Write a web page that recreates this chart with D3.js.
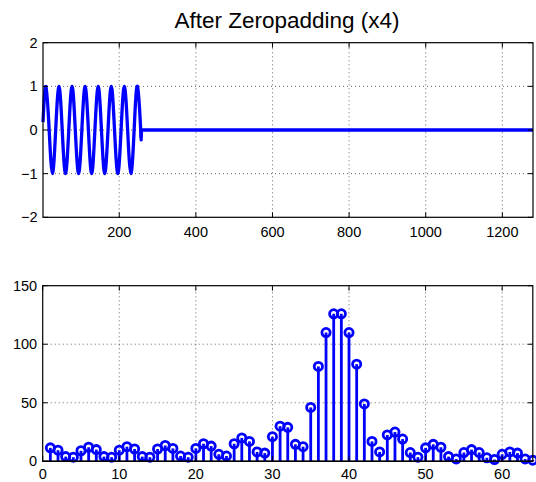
<!DOCTYPE html>
<html>
<head>
<meta charset="utf-8">
<script src="https://cdn.jsdelivr.net/npm/d3@7"></script>
<style>
  html, body { margin: 0; padding: 0; background: #fff; }
  svg { display: block; }
  text { font-family: Helvetica, Arial, "Liberation Sans", sans-serif; fill: #000; }
</style>
</head>
<body>
<svg id="chart" width="536" height="482"></svg>
<script>
// ---------------- DATA ----------------
const titleText = "After Zeropadding (x4)";

const waveSamples = [1, 8.5, 17.1, 25.6, 34.1, 42.7, 51.2, 59.7, 68.3, 76.8, 85.3, 93.9, 102.4, 110.9, 119.5, 128,
  136.5, 145.1, 153.6, 162.1, 170.7, 179.2, 187.7, 196.3, 204.8, 213.3, 221.9, 230.4, 238.9, 247.5, 256, 257];
const waveValues = [0.18, 1, 0, -1, 0, 1, 0, -1, 0, 1, 0, -1, 0, 1, 0, -1,
  0, 1, 0, -1, 0, 1, 0, -1, 0, 1, 0, -1, 0, 1, 0, -0.18];
// zero padded tail
const padSamples = [257, 258, 1280];
const padValues = [-0.18, 0, 0];

const topXTicks = [200, 400, 600, 800, 1000, 1200];
const topYTicks = [-2, -1, 0, 1, 2];

// Bottom: magnitude spectrum, bins 1..64
const binIndex = d3.range(1, 65);
const binMagnitude = [
  11.5, 9.5, 4, 3.5, 9, 12, 10, 4, 3.5, 9.5,
  12.5, 10.5, 4, 3.5, 10.5, 13.5, 11, 4.5, 3.5, 11,
  15, 13, 6, 4.5, 15, 20, 17, 8, 7, 21,
  30, 29, 14.5, 12.5, 46, 81, 110, 126, 126, 110,
  83, 49, 17, 8, 22.5, 25, 19, 7.5, 3.5, 11.5,
  14.5, 12, 4, 2, 7.5, 10, 7.5, 3, 1.5, 6,
  8, 7, 2, 1
];
const botXTicks = [0, 10, 20, 30, 40, 50, 60];
const botYTicks = [0, 50, 100, 150];

// ---------------- DRAW ----------------
const svg = d3.select("#chart");
const blue = "#0000ff";
const tickFont = 14.5;

function fmt(v) { return v < 0 ? "\u2212" + Math.abs(v) : String(v); }

function drawGrid(g, x, y, gridX, gridY) {
  const [x0, x1] = x.range();
  const [y0, y1] = y.range();
  const grid = g.append("g").attr("class", "grid");
  gridX.forEach(t => {
    grid.append("line").attr("x1", x(t)).attr("x2", x(t)).attr("y1", y0).attr("y2", y1)
      .attr("stroke", "#000").attr("stroke-width", 0.8).attr("stroke-dasharray", "1,3").attr("opacity", 0.75);
  });
  gridY.forEach(t => {
    grid.append("line").attr("x1", x0).attr("x2", x1).attr("y1", y(t)).attr("y2", y(t))
      .attr("stroke", "#000").attr("stroke-width", 0.8).attr("stroke-dasharray", "1,3").attr("opacity", 0.75);
  });
}

function drawFrame(g, x, y, xTicks, yTicks, labelDy) {
  const [x0, x1] = x.range();
  const [y0, y1] = y.range();
  const tl = 5;
  const fr = g.append("g");
  xTicks.forEach(t => {
    fr.append("line").attr("x1", x(t)).attr("x2", x(t)).attr("y1", y0).attr("y2", y0 - tl).attr("stroke", "#000");
    fr.append("line").attr("x1", x(t)).attr("x2", x(t)).attr("y1", y1).attr("y2", y1 + tl).attr("stroke", "#000");
  });
  yTicks.forEach(t => {
    fr.append("line").attr("x1", x0).attr("x2", x0 + tl).attr("y1", y(t)).attr("y2", y(t)).attr("stroke", "#000");
    fr.append("line").attr("x1", x1).attr("x2", x1 - tl).attr("y1", y(t)).attr("y2", y(t)).attr("stroke", "#000");
  });
  fr.append("rect").attr("x", x0).attr("y", y1).attr("width", x1 - x0).attr("height", y0 - y1)
    .attr("fill", "none").attr("stroke", "#000").attr("stroke-width", 1.2);
  xTicks.forEach(t => {
    fr.append("text").attr("x", x(t)).attr("y", y0 + labelDy).attr("text-anchor", "middle")
      .attr("font-size", tickFont).text(fmt(t));
  });
  yTicks.forEach(t => {
    fr.append("text").attr("x", x0 - 5.5).attr("y", y(t) + 5).attr("text-anchor", "end")
      .attr("font-size", tickFont).text(fmt(t));
  });
}

// Title
svg.append("text").attr("x", 287).attr("y", 28.3).attr("text-anchor", "middle")
  .attr("font-size", 22.5).text(titleText);

// ---- Top subplot ----
const xTop = d3.scaleLinear().domain([1, 1280]).range([43, 533]);
const yTop = d3.scaleLinear().domain([-2, 2]).range([217.3, 42.7]);
const gTop = svg.append("g");
drawGrid(gTop, xTop, yTop, topXTicks, [-1, 0, 1]);

const wavePts = waveSamples.map((s, i) => [s, waveValues[i]]);
const padPts = padSamples.map((s, i) => [s, padValues[i]]);
const lineNat = d3.line().x(d => xTop(d[0])).y(d => yTop(d[1])).curve(d3.curveNatural);
const lineLin = d3.line().x(d => xTop(d[0])).y(d => yTop(d[1]));
gTop.append("path").attr("d", lineNat(wavePts)).attr("fill", "none").attr("stroke", blue)
  .attr("stroke-width", 3.3).attr("stroke-linejoin", "round");
gTop.append("path").attr("d", lineLin(padPts)).attr("fill", "none").attr("stroke", blue)
  .attr("stroke-width", 3.3).attr("stroke-linejoin", "round");
drawFrame(gTop, xTop, yTop, topXTicks, topYTicks, 20);

// ---- Bottom subplot ----
const xBot = d3.scaleLinear().domain([0, 64]).range([42.7, 532.8]);
const yBot = d3.scaleLinear().domain([0, 150]).range([461.3, 285.7]);
const gBot = svg.append("g");
drawGrid(gBot, xBot, yBot, botXTicks.filter(t => t > 0), [50, 100]);

const stems = gBot.append("g");
binIndex.forEach((k, i) => {
  stems.append("line").attr("x1", xBot(k)).attr("x2", xBot(k))
    .attr("y1", yBot(0)).attr("y2", yBot(binMagnitude[i]))
    .attr("stroke", blue).attr("stroke-width", 2.8);
});
binIndex.forEach((k, i) => {
  stems.append("circle").attr("cx", xBot(k)).attr("cy", yBot(binMagnitude[i])).attr("r", 4.1)
    .attr("fill", "none").attr("stroke", blue).attr("stroke-width", 2.8);
});
drawFrame(gBot, xBot, yBot, botXTicks, botYTicks, 17.3);
gBot.append("line").attr("x1", xBot(0)).attr("x2", xBot(64)).attr("y1", yBot(0)).attr("y2", yBot(0))
  .attr("stroke", "#000").attr("stroke-width", 1.5);
</script>
</body>
</html>
